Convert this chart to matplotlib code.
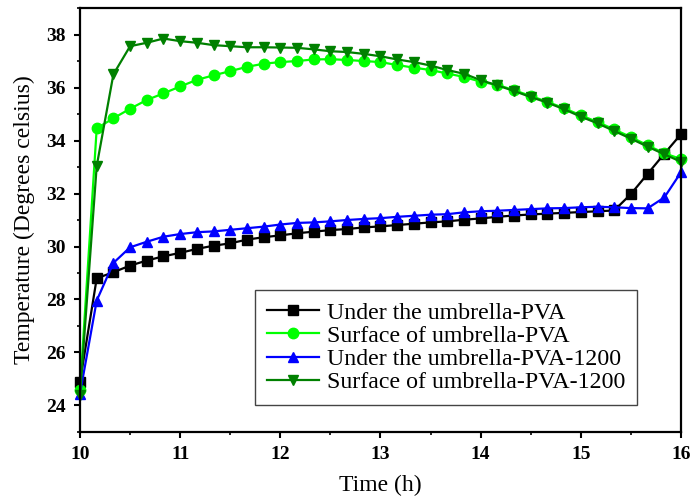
import numpy as np
import matplotlib
matplotlib.use("Agg")
import matplotlib.pyplot as plt
from matplotlib.ticker import MultipleLocator

plt.rcParams["font.family"] = ["Liberation Serif", "DejaVu Serif"]

# time in hours, one reading every 10 minutes
time_h = np.arange(37) / 6 + 10

under_pva = [
    24.9, 28.8, 29.03, 29.28, 29.47, 29.63, 29.76, 29.91, 30.03, 30.12, 30.26, 30.35,
    30.42, 30.5, 30.56, 30.62, 30.66, 30.72, 30.76, 30.81, 30.86, 30.91, 30.95, 31.01,
    31.06, 31.12, 31.17, 31.21, 31.24, 31.27, 31.3, 31.33, 31.36, 31.98, 32.74, 33.5,
    34.24,
]
surface_pva = [
    24.6, 34.46, 34.84, 35.2, 35.53, 35.78, 36.04, 36.29, 36.46, 36.62, 36.78, 36.9,
    36.96, 37.0, 37.06, 37.07, 37.04, 37.0, 36.96, 36.85, 36.75, 36.66, 36.53, 36.4,
    36.22, 36.1, 35.9, 35.68, 35.46, 35.22, 34.95, 34.7, 34.42, 34.13, 33.82, 33.52,
    33.3,
]
under_pva_1200 = [
    24.45, 27.96, 29.38, 29.97, 30.18, 30.37, 30.47, 30.54, 30.57, 30.63, 30.69, 30.75,
    30.83, 30.89, 30.91, 30.95, 31.0, 31.04, 31.07, 31.12, 31.16, 31.2, 31.22, 31.29,
    31.33, 31.35, 31.38, 31.41, 31.44, 31.45, 31.48, 31.5, 31.48, 31.45, 31.44, 31.85,
    32.8,
]
surface_pva_1200 = [
    24.4, 33.04, 36.5, 37.56, 37.69, 37.85, 37.75, 37.69, 37.6, 37.56, 37.52, 37.52,
    37.51, 37.5, 37.44, 37.37, 37.34, 37.27, 37.18, 37.06, 36.96, 36.83, 36.66, 36.52,
    36.28, 36.08, 35.87, 35.64, 35.43, 35.18, 34.9, 34.65, 34.36, 34.07, 33.77, 33.48,
    33.2,
]

x_ticks = [10, 11, 12, 13, 14, 15, 16]
y_ticks = [24, 26, 28, 30, 32, 34, 36, 38]

series = [
    ("Under the umbrella-PVA", under_pva, "black", "s"),
    ("Surface of umbrella-PVA", surface_pva, "#00ff00", "o"),
    ("Under the umbrella-PVA-1200", under_pva_1200, "#0000ff", "^"),
    ("Surface of umbrella-PVA-1200", surface_pva_1200, "#008000", "v"),
]

fig = plt.figure(figsize=(6.91, 5.03), dpi=100)
ax = fig.add_axes([0.1158, 0.1412, 0.8697, 0.8428])

for label, values, color, marker in series:
    ax.plot(time_h, values, color=color, marker=marker, markersize=7.5,
            linewidth=1.6, label=label, clip_on=False)

ax.set_xlim(10, 16)
ax.set_ylim(23, 39)
ax.set_xticks(x_ticks, [str(t) for t in x_ticks], fontweight="bold", fontsize=14)
ax.set_yticks(y_ticks, [str(t) for t in y_ticks], fontweight="bold", fontsize=14)
ax.xaxis.set_minor_locator(MultipleLocator(0.5))
ax.yaxis.set_minor_locator(MultipleLocator(1))

ax.tick_params(which="major", direction="out", length=4, width=1.5, pad=6)
ax.tick_params(which="minor", direction="out", length=2.5, width=1.2)
for spine in ax.spines.values():
    spine.set_linewidth(1.6)

ax.set_xlabel("Time (h)", fontsize=17, labelpad=9)
ax.set_ylabel("Temperature (Degrees celsius)", fontsize=17, labelpad=8)

leg = ax.legend(loc="upper left", bbox_to_anchor=(0.291, 0.335), borderaxespad=0,
                fontsize=17.2, handlelength=2.2, fancybox=False, framealpha=1,
                edgecolor="#444444", labelspacing=0.06, borderpad=0.5,
                handletextpad=0.3)
leg.get_frame().set_linewidth(1.0)

fig.savefig("out.png", dpi=100)
